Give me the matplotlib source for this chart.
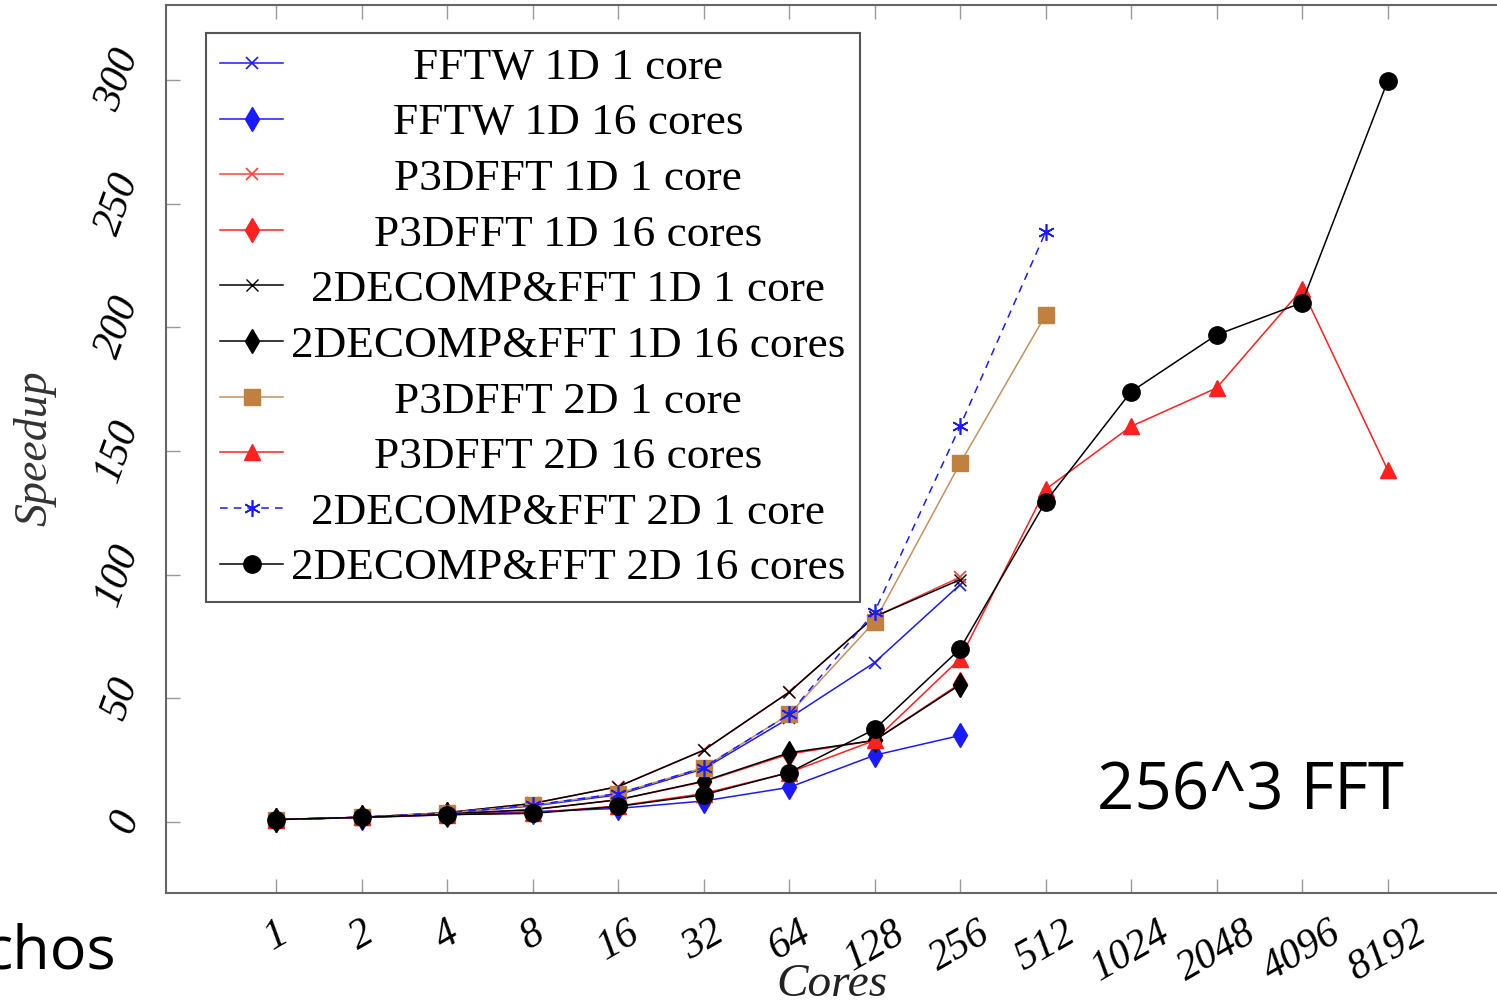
import matplotlib
matplotlib.use('Agg')
import matplotlib.pyplot as plt
from matplotlib.ticker import NullLocator

# ---------------- data ----------------
cores = [1, 2, 4, 8, 16, 32, 64, 128, 256, 512, 1024, 2048, 4096, 8192]
core_labels = ['1', '2', '4', '8', '16', '32', '64', '128', '256', '512',
               '1024', '2048', '4096', '8192']
y_ticks = [0, 50, 100, 150, 200, 250, 300]

series_names = ['FFTW 1D 1 core', 'FFTW 1D 16 cores', 'P3DFFT 1D 1 core',
                'P3DFFT 1D 16 cores', '2DECOMP&FFT 1D 1 core',
                '2DECOMP&FFT 1D 16 cores', 'P3DFFT 2D 1 core',
                'P3DFFT 2D 16 cores', '2DECOMP&FFT 2D 1 core',
                '2DECOMP&FFT 2D 16 cores']

fftw_1d_1 = [1, 1.9, 3.6, 6.5, 11, 21.5, 42, 64.5, 96]
fftw_1d_16 = [1, 1.8, 2.9, 4.2, 5.5, 8.5, 14, 27, 35]
p3_1d_1 = [1, 1.9, 3.8, 7.5, 14.3, 29, 52.5, 83, 99]
p3_1d_16 = [1, 1.9, 3.3, 5, 9, 16.3, 27.5, 33, 56]
dc_1d_1 = [1, 1.9, 3.8, 7.5, 14.3, 29, 52.5, 83, 98]
dc_1d_16 = [1, 1.9, 3.3, 5, 9, 16.5, 28, 33, 55.5]
p3_2d_1 = [1, 1.9, 3.7, 6.8, 11.5, 22, 43.5, 81, 145, 205]
p3_2d_16 = [1, 1.9, 3, 3.7, 6.5, 11.5, 20, 33, 66, 134.5, 160, 175.5, 215.5, 142.5]
dc_2d_1 = [1, 1.9, 3.7, 6.8, 11.5, 22, 43.5, 85, 160, 238.5]
dc_2d_16 = [1, 1.9, 3, 3.5, 6.3, 11, 20, 37.5, 70, 129.5, 174, 197, 210, 299.5]

series_values = [fftw_1d_1, fftw_1d_16, p3_1d_1, p3_1d_16, dc_1d_1, dc_1d_16,
                 p3_2d_1, p3_2d_16, dc_2d_1, dc_2d_16]

# ---------------- styles ----------------
BLUE = '#1a1aff'
RED = '#ff2020'
BROWN = '#bf8040'
styles = [
    dict(color=BLUE, marker='x', ms=9, mew=1.2, ls='-'),
    dict(color=BLUE, marker='d', ms=12, ls='-'),
    dict(color='#ff4040', marker='x', ms=9, mew=1.2, ls='-'),
    dict(color=RED, marker='d', ms=12, ls='-'),
    dict(color='black', marker='x', ms=8, mew=1.0, ls='-'),
    dict(color='black', marker='d', ms=12, ls='-'),
    dict(color='#c89060', mfc=BROWN, mec=BROWN, marker='s', ms=11, ls='-'),
    dict(color=RED, marker='^', ms=11, ls='-'),
    dict(color=BLUE, marker=(6, 2, 0), ms=12, mew=1.2, ls=(0, (5, 4))),
    dict(color='black', marker='o', ms=12.5, ls='-'),
]

W, H = 1497, 1005
fig = plt.figure(figsize=(W / 100, H / 100), dpi=100)
left_px, right_px, top_px, bottom_px = 166, 1511, 5, 893
ax = fig.add_axes([left_px / W, 1 - bottom_px / H,
                   (right_px - left_px) / W, (bottom_px - top_px) / H])

handles = []
for name, vals, st in zip(series_names, series_values, styles):
    ln, = ax.plot(cores[:len(vals)], vals, lw=1.1, label=name, **st)
    handles.append(ln)

ax.set_xscale('log', base=2)
ax.set_xlim(2 ** (-1.2865), 2 ** 14.444)
ax.set_ylim(-28.7, 330.4)
ax.xaxis.set_minor_locator(NullLocator())
ax.set_xticks(cores)
ax.set_xticklabels(core_labels)
ax.set_yticks(y_ticks)
ax.set_yticklabels([str(v) for v in y_ticks])

serif_it = dict(family='Liberation Serif', style='italic')
for lab in ax.get_xticklabels():
    lab.set_fontproperties(dict(size=30, **serif_it))
    lab.set_rotation(30)
    lab.set_ha('center')
    lab.set_va('top')
for lab in ax.get_yticklabels():
    lab.set_fontproperties(dict(size=30, **serif_it))
    lab.set_rotation(70)
    lab.set_ha('right')
    lab.set_va('center')

ax.tick_params(axis='both', which='major', direction='in', length=10,
               width=1, color='#999999', top=True, right=True)
ax.tick_params(axis='x', pad=15)
ax.tick_params(axis='y', pad=14)
for sp in ax.spines.values():
    sp.set_color('#666666')
    sp.set_linewidth(1.5)

ax.set_xlabel('Cores', fontsize=34, color='#222222', **serif_it)
ax.xaxis.set_label_coords((832 - left_px) / (right_px - left_px),
                          (bottom_px - 996) / (bottom_px - top_px))
ax.xaxis.label.set_va('baseline')
ax.set_ylabel('Speedup', fontsize=33, color='#333333', **serif_it)
ax.yaxis.set_label_coords((35 - left_px) / (right_px - left_px),
                          (bottom_px - 448) / (bottom_px - top_px))
ax.yaxis.label.set_va('center')

leg = ax.legend(handles=handles, loc='upper left',
                bbox_to_anchor=(206 / W, 1 - 33 / H),
                bbox_transform=fig.transFigure,
                prop=dict(family='Liberation Serif', size=32.6),
                fancybox=False, shadow=False, framealpha=1,
                edgecolor='#555555', borderpad=0.31, labelspacing=0.33,
                handlelength=1.39, handletextpad=0.18, borderaxespad=0)
leg.get_frame().set_linewidth(1.5)

fig.text(1097 / W, 1 - 808 / H, '256^3 FFT', family='Open Sans',
         fontsize=47, ha='left', va='baseline', color='black')
fig.text(116 / W, 1 - 968 / H, 'chos', family='Open Sans',
         fontsize=44, ha='right', va='baseline', color='black')

# center legend labels like the reference
fig.canvas.draw()
widths = [t.get_window_extent().width for t in leg.texts]
maxw = max(widths)
for t, w in zip(leg.texts, widths):
    t.set_x((maxw - w) / 2)

fig.savefig('out.png', dpi=100)
